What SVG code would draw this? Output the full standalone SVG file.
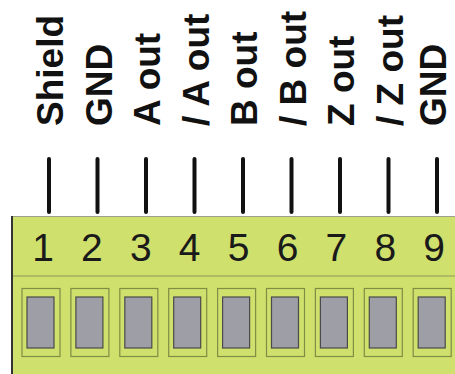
<svg xmlns="http://www.w3.org/2000/svg" width="455" height="374" viewBox="0 0 455 374">
<style>
.lbl{font-family:"Liberation Sans",Arial,sans-serif;font-weight:bold;font-size:37px;fill:#111}
.num{font-family:"Liberation Sans",Arial,sans-serif;font-size:39px;fill:#1a1a1a;text-anchor:middle}
.pin{stroke:#111;stroke-width:4;stroke-linecap:round}
.outer{fill:#cfe06c;stroke:#7f8d45;stroke-width:1.2}
.inner{fill:#9e9ea6;stroke:#4a4a4a;stroke-width:1.2}
</style>
<rect width="455" height="374" fill="#fff"/>
<g id="board">
<rect x="12" y="216.5" width="443" height="158" fill="#cfe06c"/>
<line x1="12" y1="216.5" x2="455" y2="216.5" stroke="#9aa08a" stroke-width="1.2"/>
<line x1="12" y1="276" x2="455" y2="276" stroke="#8d9a5a" stroke-width="1.2"/>
<line x1="12" y1="216" x2="12" y2="374" stroke="#333" stroke-width="2"/>
</g>
<g id="connectors">
<line class="pin" x1="49" y1="159" x2="49" y2="212"/>
<line class="pin" x1="97.5" y1="159" x2="97.5" y2="212"/>
<line class="pin" x1="146" y1="159" x2="146" y2="212"/>
<line class="pin" x1="194.5" y1="159" x2="194.5" y2="212"/>
<line class="pin" x1="243" y1="159" x2="243" y2="212"/>
<line class="pin" x1="291.5" y1="159" x2="291.5" y2="212"/>
<line class="pin" x1="340" y1="159" x2="340" y2="212"/>
<line class="pin" x1="388.5" y1="159" x2="388.5" y2="212"/>
<line class="pin" x1="437" y1="159" x2="437" y2="212"/>
</g>
<g id="t1"><text class="lbl" transform="translate(63,126) rotate(-90)">Shield</text><text class="num" x="43" y="261">1</text><rect class="outer" x="22" y="288.5" width="38" height="68"/><rect class="inner" x="27" y="297" width="27" height="51"/></g>
<g id="t2"><text class="lbl" transform="translate(111.5,126) rotate(-90)">GND</text><text class="num" x="91.9" y="261">2</text><rect class="outer" x="70.9" y="288.5" width="38" height="68"/><rect class="inner" x="75.9" y="297" width="27" height="51"/></g>
<g id="t3"><text class="lbl" transform="translate(160,126) rotate(-90)">A out</text><text class="num" x="140.8" y="261">3</text><rect class="outer" x="119.8" y="288.5" width="38" height="68"/><rect class="inner" x="124.8" y="297" width="27" height="51"/></g>
<g id="t4"><text class="lbl" transform="translate(208.5,126) rotate(-90)">/ A out</text><text class="num" x="189.7" y="261">4</text><rect class="outer" x="168.7" y="288.5" width="38" height="68"/><rect class="inner" x="173.7" y="297" width="27" height="51"/></g>
<g id="t5"><text class="lbl" transform="translate(257,126) rotate(-90)">B out</text><text class="num" x="238.6" y="261">5</text><rect class="outer" x="217.6" y="288.5" width="38" height="68"/><rect class="inner" x="222.6" y="297" width="27" height="51"/></g>
<g id="t6"><text class="lbl" transform="translate(305.5,126) rotate(-90)">/ B out</text><text class="num" x="287.5" y="261">6</text><rect class="outer" x="266.5" y="288.5" width="38" height="68"/><rect class="inner" x="271.5" y="297" width="27" height="51"/></g>
<g id="t7"><text class="lbl" transform="translate(354,126) rotate(-90)">Z out</text><text class="num" x="336.4" y="261">7</text><rect class="outer" x="315.4" y="288.5" width="38" height="68"/><rect class="inner" x="320.4" y="297" width="27" height="51"/></g>
<g id="t8"><text class="lbl" transform="translate(402.5,126) rotate(-90)">/ Z out</text><text class="num" x="385.3" y="261">8</text><rect class="outer" x="364.3" y="288.5" width="38" height="68"/><rect class="inner" x="369.3" y="297" width="27" height="51"/></g>
<g id="t9"><text class="lbl" transform="translate(446,126) rotate(-90)">GND</text><text class="num" x="434.2" y="261">9</text><rect class="outer" x="413.2" y="288.5" width="38" height="68"/><rect class="inner" x="418.2" y="297" width="27" height="51"/></g>
</svg>
